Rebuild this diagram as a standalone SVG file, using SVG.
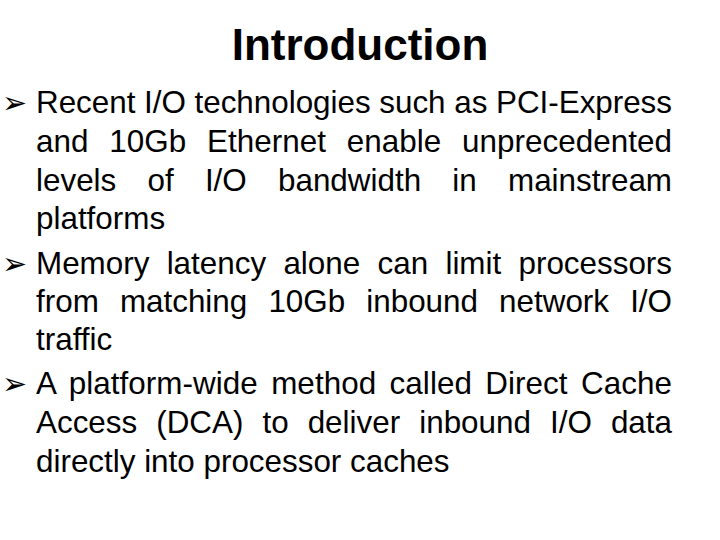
<svg xmlns="http://www.w3.org/2000/svg" width="720" height="540" viewBox="0 0 720 540">
<style>
.t{font-family:"Liberation Sans",Arial,sans-serif;font-size:31.4px;fill:#000}
.b{font-family:"DejaVu Sans",sans-serif;font-size:30px;fill:#000}
.h{font-family:"Liberation Sans",Arial,sans-serif;font-size:44px;font-weight:bold;fill:#000}
</style>
<rect width="720" height="540" fill="#fff"/>
<text class="h" x="360" y="60" text-anchor="middle">Introduction</text>
<g id="bullet1" class="t">
<text class="b" x="2" y="113">➢</text>
<text x="36" y="113" textLength="636" lengthAdjust="spacing">Recent I/O technologies such as PCI-Express</text>
<text x="36" y="152" word-spacing="12" textLength="636" lengthAdjust="spacing">and 10Gb Ethernet enable unprecedented</text>
<text x="36" y="191" word-spacing="22.5" textLength="636" lengthAdjust="spacing">levels of I/O bandwidth in mainstream</text>
<text x="36" y="229">platforms</text>
</g>
<g id="bullet2" class="t">
<text class="b" x="2" y="274">➢</text>
<text x="36" y="274" word-spacing="8.6" textLength="636" lengthAdjust="spacing">Memory latency alone can limit processors</text>
<text x="36" y="312" word-spacing="12.4" textLength="636" lengthAdjust="spacing">from matching 10Gb inbound network I/O</text>
<text x="36" y="350">traffic</text>
</g>
<g id="bullet3" class="t">
<text class="b" x="2" y="394">➢</text>
<text x="36" y="394" word-spacing="4.7" textLength="636" lengthAdjust="spacing">A platform-wide method called Direct Cache</text>
<text x="36" y="433" word-spacing="10.3" textLength="636" lengthAdjust="spacing">Access (DCA) to deliver inbound I/O data</text>
<text x="36" y="472">directly into processor caches</text>
</g>
</svg>
